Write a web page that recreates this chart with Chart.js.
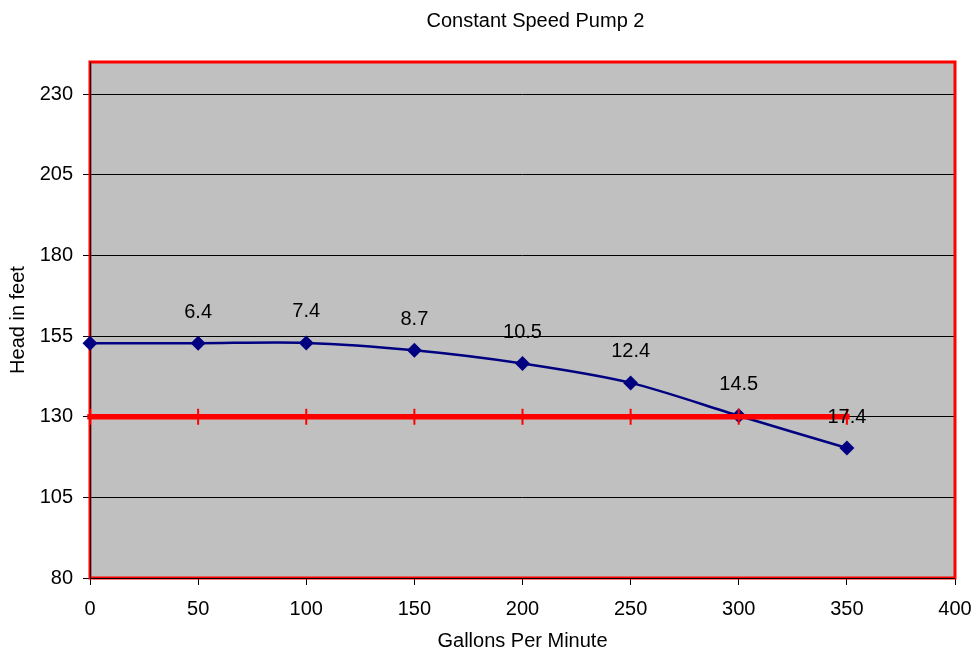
<!DOCTYPE html>
<html>
<head>
<meta charset="utf-8">
<title>Constant Speed Pump 2</title>
<script src="https://cdn.jsdelivr.net/npm/chart.js@4"></script>
<style>
  html, body { margin: 0; padding: 0; background: #fff; }
  #wrap { width: 974px; height: 653px; }
</style>
</head>
<body>
<div id="wrap"><canvas id="chart-pump"></canvas></div>
<script>
// values
const gpm = [0, 50, 100, 150, 200, 250, 300, 350];
const headFeet = [152.8, 152.8, 152.9, 150.6, 146.5, 140.5, 130.3, 120.3];
const efficiency = ['', '6.4', '7.4', '8.7', '10.5', '12.4', '14.5', '17.4'];
const systemHead = [130, 130, 130, 130, 130, 130, 130, 130];
const yTicks = [80, 105, 130, 155, 180, 205, 230];

const FONT = '"Liberation Sans", Arial, sans-serif';
Chart.defaults.font.family = FONT;
Chart.defaults.font.size = 20;
Chart.defaults.color = '#000';

// gray plot area + red frame like the Excel original
const plotFrame = {
    id: 'plotFrame',
    afterLayout(chart) {
        // Excel centres the title a bit right of the canvas middle
        if (chart.titleBlock) chart.titleBlock.left = 116;
    },
    beforeDraw(chart) {
        const { ctx, chartArea: a } = chart;
        ctx.save();
        ctx.fillStyle = '#C0C0C0';
        ctx.fillRect(a.left, a.top, a.right - a.left, a.bottom - a.top);
        ctx.restore();
    },
    beforeDatasetsDraw(chart) {
        const { ctx, chartArea: a } = chart;
        ctx.save();
        ctx.strokeStyle = '#FF0000';
        ctx.lineWidth = 3;
        ctx.strokeRect(a.left, a.top, a.right - a.left, a.bottom - a.top);
        ctx.strokeStyle = '#000';
        ctx.lineWidth = 1;
        ctx.beginPath();
        ctx.moveTo(a.left + 0.5, a.top);
        ctx.lineTo(a.left + 0.5, a.bottom + 0.5);
        ctx.lineTo(a.right, a.bottom + 0.5);
        ctx.stroke();
        ctx.restore();
    }
};

// efficiency labels above the pump curve points
const pointLabels = {
    id: 'pointLabels',
    afterDatasetsDraw(chart) {
        const meta = chart.getDatasetMeta(0);
        const ctx = chart.ctx;
        ctx.save();
        ctx.font = '20px ' + FONT;
        ctx.fillStyle = '#000';
        ctx.textAlign = 'center';
        ctx.textBaseline = 'middle';
        meta.data.forEach((pt, i) => {
            if (efficiency[i]) ctx.fillText(efficiency[i], pt.x, pt.y - 31);
        });
        ctx.restore();
    }
};

const ctx = document.getElementById('chart-pump').getContext('2d');

window.pumpChart = new Chart(ctx, {
    type: 'line',
    data: {
        datasets: [
            {
                label: 'Head',
                data: gpm.map((x, i) => ({ x, y: headFeet[i] })),
                borderColor: '#000080',
                backgroundColor: '#000080',
                borderWidth: 2.5,
                tension: 0.3,
                pointStyle: 'rectRot',
                pointRadius: 7.5,
                pointBorderWidth: 0,
                clip: false,
                order: 1
            },
            {
                label: 'System',
                data: gpm.map((x, i) => ({ x, y: systemHead[i] })),
                borderColor: '#FF0000',
                backgroundColor: '#FF0000',
                borderWidth: 5.5,
                borderCapStyle: 'square',
                pointStyle: 'line',
                pointRotation: 90,
                pointRadius: 8,
                pointBorderWidth: 2,
                pointBorderColor: '#FF0000',
                clip: false,
                order: 0
            }
        ]
    },
    options: {
        responsive: true,
        maintainAspectRatio: false,
        animation: false,
        layout: { padding: { top: 0, left: 0, right: 19, bottom: 0 } },
        plugins: {
            legend: { display: false },
            tooltip: { enabled: false },
            title: {
                display: true,
                text: 'Constant Speed Pump 2',
                font: { size: 20, weight: 'normal' },
                color: '#000',
                padding: { top: 9, bottom: 29 }
            }
        },
        scales: {
            x: {
                type: 'linear',
                min: 0,
                max: 400,
                ticks: { stepSize: 50, padding: 12, color: '#000' },
                grid: { drawOnChartArea: false, drawTicks: true, tickLength: 7, color: '#000' },
                border: { display: false },
                title: { display: true, text: 'Gallons Per Minute', color: '#000', padding: { top: 0, bottom: 0 } },
                afterFit(scale) {
                    scale.height = 75;
                    scale.paddingLeft = 0;
                    scale.paddingRight = 0;
                }
            },
            y: {
                type: 'linear',
                min: 80,
                max: 240,
                afterBuildTicks(scale) { scale.ticks = yTicks.map(v => ({ value: v })); },
                ticks: { padding: 10, color: '#000' },
                grid: { color: '#000', lineWidth: 1, tickLength: 7 },
                border: { display: false },
                title: { display: true, text: 'Head in feet', color: '#000', padding: { top: 6, bottom: 0 } },
                afterFit(scale) { scale.width = 90; }
            }
        }
    },
    plugins: [plotFrame, pointLabels]
});
</script>
</body>
</html>
